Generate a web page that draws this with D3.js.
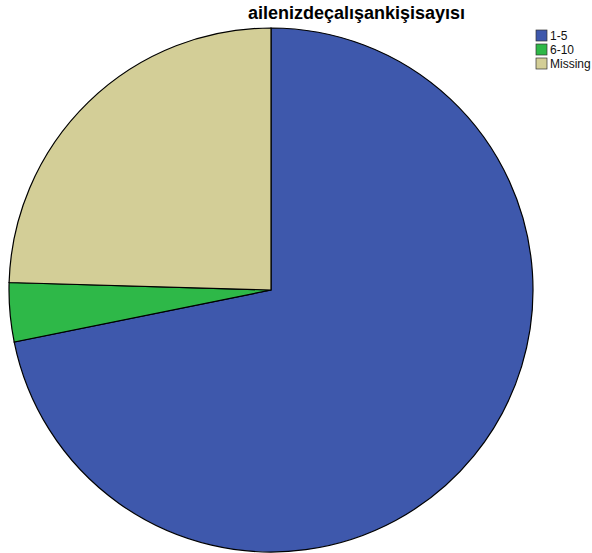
<!DOCTYPE html>
<html>
<head>
<meta charset="utf-8">
<script src="https://cdn.jsdelivr.net/npm/d3@7"></script>
<style>
  body { margin: 0; background: #fff; }
  text { font-family: Arial, "Liberation Sans", sans-serif; }
</style>
</head>
<body>
<div id="chart"></div>
<script>
const categories = ['1-5', '6-10', 'Missing'];
const counts = [79, 4, 27];
const colors = ['#3e58ac', '#2eb848', '#d3ce97'];
const title = 'ailenizdeçalışankişisayısı';

const w = 592;
const h = 553;
const cx = 271;
const cy = 290;
const r = 262;

const svg = d3.select('#chart').append('svg').attr('width', w).attr('height', h);

svg.append('text')
   .attr('x', 356.5)
   .attr('y', 19)
   .attr('text-anchor', 'middle')
   .attr('font-size', 18)
   .attr('font-weight', 'bold')
   .text(title);

const pie = d3.pie().sort(null).value(d => d);
const arc = d3.arc().innerRadius(0).outerRadius(r);

svg.append('g')
   .attr('transform', `translate(${cx}, ${cy})`)
   .selectAll('path')
   .data(pie(counts))
   .enter()
   .append('path')
   .attr('d', arc)
   .attr('fill', (d, i) => colors[i])
   .attr('stroke', '#000')
   .attr('stroke-width', 1.2);

const legend = svg.append('g').attr('transform', 'translate(536, 30)');
const row = legend.selectAll('g')
   .data(categories)
   .enter()
   .append('g')
   .attr('transform', (d, i) => `translate(0, ${i * 14})`);

row.append('rect')
   .attr('width', 11)
   .attr('height', 11)
   .attr('fill', (d, i) => colors[i])
   .attr('stroke', '#333')
   .attr('stroke-width', 0.7);

row.append('text')
   .attr('x', 14)
   .attr('y', 10)
   .attr('font-size', 12)
   .attr('fill', '#111')
   .text(d => d);
</script>
</body>
</html>
